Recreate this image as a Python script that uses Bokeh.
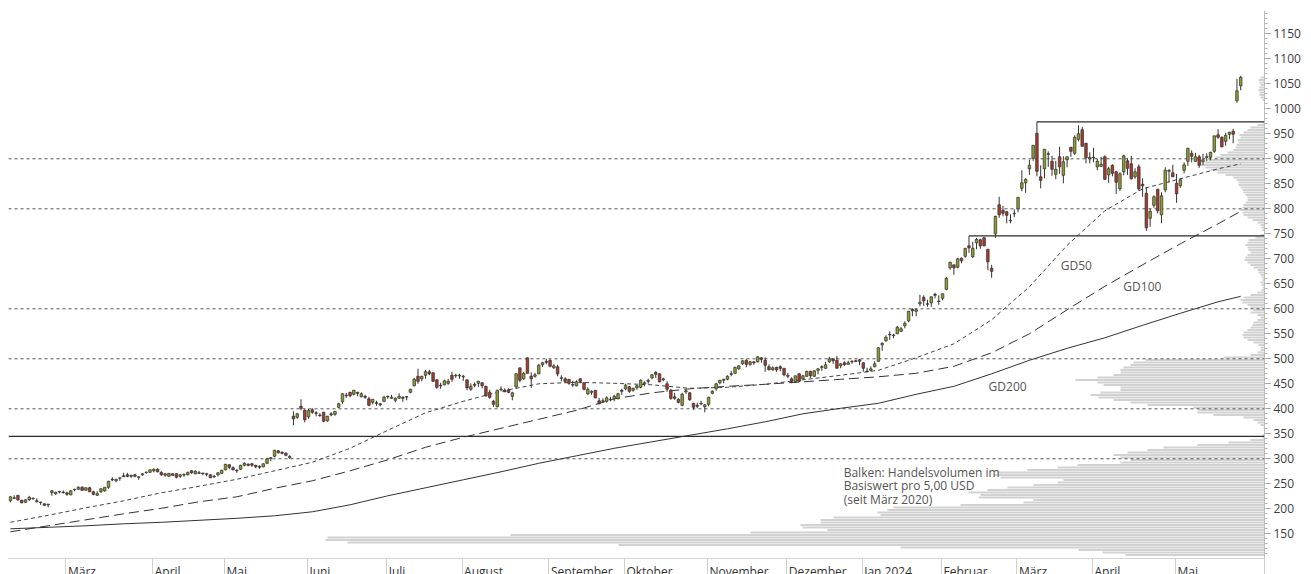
import numpy as np
from bokeh.plotting import figure
from bokeh.models import Range1d, FixedTicker, Label, ColumnDataSource
from bokeh.embed import file_html
from bokeh.resources import INLINE

# ---------------- data ----------------
# trading-day index: day 0 = 1 March 2023, first candle = 7 Feb 2023
FIRST_DAY = -15

opens = [
    216, 221, 227, 217, 213, 218, 221, 216, 213, 210, 209, 232, 230, 234, 233,
    232, 228, 238, 239, 243, 237, 242, 234, 227, 234, 236, 243, 259, 256, 261, 266, 268, 265, 268, 263, 268, 273, 273,
    276, 279, 273, 267, 265, 270, 270, 265, 268, 268, 276, 270, 272, 271, 270, 268, 264, 268, 271,
    278, 288, 282, 277, 279, 287, 289, 290, 287, 285, 284, 291, 301, 305, 316, 313, 311, 302, 385, 383, 405, 397,
    384, 398, 392, 387, 393, 376, 390, 389, 403, 414, 426, 433, 429, 433, 424, 425, 420, 413, 412, 410, 415,
    425, 421, 417, 421, 423, 424, 433, 446, 465, 460, 467, 474, 472, 458, 447, 448, 451, 467, 466, 466,
    464, 458, 439, 449, 451, 452, 445, 433, 415, 404, 439, 437, 438, 425, 444, 482, 460, 502, 465, 465, 470, 488, 495,
    497, 482, 484, 461, 460, 459, 448, 446, 460, 452, 430, 433, 437, 416, 415, 415, 418, 420, 420, 437,
    440, 444, 437, 442, 443, 450, 455, 462, 473, 470, 458, 450, 437, 424, 419, 407, 434, 432, 411, 407, 410, 404,
    409, 431, 440, 452, 457, 459, 470, 471, 480, 490, 497, 489, 494, 494, 502, 497, 484, 478, 483, 484, 481,
    465, 460, 454, 470, 460, 465, 475, 465, 477, 484, 481, 494, 500, 497, 486, 492, 489, 495, 496, 498,
    492, 475, 477, 484, 495, 528, 536, 549, 547, 550, 555, 566, 576, 599, 595, 610, 623, 609, 612, 629, 615,
    621, 639, 682, 688, 683, 701, 705, 726, 704, 732, 738, 742, 719, 681, 750, 808, 797, 794, 776, 790,
    800, 841, 852, 880, 901, 951, 864, 880, 910, 895, 869, 904, 867, 898, 923, 911, 939, 958, 931, 900,
    902, 884, 885, 904, 868, 887, 874, 840, 874, 896, 890, 864, 884, 849, 831, 781, 807, 839, 788, 838, 875, 872,
    851, 846, 877, 895, 911, 895, 904, 894, 904, 903, 915, 948, 943, 935, 949, 955, 1016, 1046,
]
highs = [
    225, 227, 227, 218, 219, 226, 222, 221, 214, 211, 210, 238, 234, 236, 237,
    234, 237, 240, 245, 245, 243, 244, 236, 235, 241, 243, 256, 263, 260, 262, 272, 272, 268, 270, 265, 271, 274, 278,
    281, 281, 275, 272, 271, 271, 271, 269, 271, 274, 277, 277, 276, 272, 272, 269, 268, 273, 278,
    290, 289, 285, 279, 288, 293, 291, 292, 288, 287, 291, 302, 303, 318, 317, 315, 313, 307, 395, 392, 419, 399,
    400, 401, 395, 391, 394, 386, 393, 395, 412, 431, 432, 434, 438, 434, 433, 428, 424, 419, 416, 411, 426,
    426, 428, 423, 431, 425, 425, 440, 462, 480, 466, 478, 478, 473, 459, 452, 458, 460, 474, 470, 470,
    468, 458, 451, 453, 456, 453, 446, 438, 418, 438, 445, 441, 441, 434, 471, 482, 474, 503, 473, 472, 490, 494, 500,
    499, 489, 488, 467, 463, 459, 456, 457, 461, 453, 443, 437, 437, 422, 421, 425, 424, 428, 432, 440,
    450, 446, 442, 448, 459, 455, 460, 469, 475, 471, 462, 455, 440, 432, 421, 432, 438, 433, 412, 412, 416, 410,
    424, 437, 452, 458, 460, 467, 476, 484, 487, 497, 499, 496, 495, 505, 503, 503, 489, 485, 484, 487, 481,
    472, 463, 466, 471, 468, 476, 476, 477, 481, 487, 494, 504, 500, 506, 491, 495, 496, 497, 498, 500,
    493, 482, 485, 495, 523, 533, 547, 555, 550, 566, 564, 575, 596, 601, 600, 628, 627, 618, 625, 632, 627,
    631, 664, 694, 688, 702, 703, 721, 746, 734, 742, 740, 744, 719, 688, 786, 824, 806, 796, 789, 799,
    823, 877, 861, 898, 927, 974, 887, 919, 915, 906, 896, 924, 905, 904, 923, 947, 967, 964, 932, 913,
    922, 900, 904, 907, 884, 889, 876, 873, 908, 901, 906, 881, 889, 861, 843, 800, 827, 840, 833, 883, 879, 888,
    870, 861, 893, 922, 917, 912, 908, 910, 911, 914, 946, 959, 945, 952, 954, 960, 1060, 1066,
]
lows = [
    213, 220, 216, 211, 212, 216, 218, 213, 208, 206, 203, 226, 228, 231, 231,
    226, 227, 235, 238, 236, 236, 234, 227, 226, 232, 234, 240, 255, 253, 256, 264, 263, 262, 263, 258, 266, 270, 272,
    273, 273, 266, 264, 264, 266, 261, 262, 264, 267, 270, 269, 270, 267, 265, 262, 262, 265, 270,
    277, 279, 277, 272, 278, 285, 285, 284, 281, 280, 283, 290, 295, 303, 311, 309, 305, 300, 367, 380, 397, 373,
    380, 390, 385, 384, 373, 374, 385, 386, 402, 410, 422, 423, 427, 425, 423, 420, 405, 409, 406, 405, 413,
    420, 420, 413, 420, 414, 417, 431, 445, 450, 455, 460, 467, 454, 440, 440, 447, 448, 454, 462, 460,
    456, 437, 436, 443, 444, 441, 424, 420, 404, 403, 435, 434, 431, 417, 440, 453, 458, 471, 442, 462, 469, 484, 489,
    483, 480, 465, 455, 452, 448, 444, 445, 451, 437, 428, 428, 421, 409, 412, 412, 415, 415, 419, 428,
    437, 432, 434, 438, 441, 445, 450, 459, 462, 453, 455, 434, 418, 418, 411, 405, 430, 416, 398, 401, 407, 393,
    405, 429, 436, 449, 451, 457, 465, 470, 478, 488, 483, 486, 488, 493, 492, 474, 477, 476, 474, 475, 465,
    461, 451, 453, 454, 459, 464, 462, 464, 469, 476, 480, 492, 490, 481, 481, 486, 489, 490, 493, 487,
    474, 473, 475, 483, 494, 516, 534, 538, 541, 550, 554, 561, 573, 585, 585, 605, 606, 604, 604, 621, 608,
    617, 637, 678, 668, 681, 691, 702, 712, 702, 719, 720, 725, 677, 662, 742, 782, 785, 771, 771, 783,
    793, 835, 832, 868, 896, 865, 841, 861, 884, 866, 859, 870, 851, 883, 904, 908, 935, 925, 891, 891,
    893, 877, 884, 858, 852, 865, 830, 836, 867, 868, 859, 860, 836, 824, 756, 764, 802, 791, 771, 833, 852, 864,
    812, 842, 871, 886, 893, 894, 882, 888, 895, 897, 912, 940, 923, 926, 939, 931, 1012, 1037,
]
closes = [
    224, 222, 218, 212, 218, 223, 221, 214, 213, 207, 208, 236, 233, 234, 232,
    229, 236, 239, 243, 237, 242, 234, 229, 230, 240, 243, 255, 258, 259, 262, 264, 265, 267, 265, 264, 270, 273, 278,
    279, 274, 268, 270, 271, 267, 263, 268, 268, 273, 272, 275, 271, 271, 269, 262, 265, 272, 277,
    289, 283, 278, 276, 287, 291, 287, 287, 284, 283, 290, 300, 302, 317, 312, 311, 307, 305, 380, 390, 401, 378,
    397, 393, 391, 387, 375, 385, 388, 395, 410, 430, 427, 426, 437, 431, 430, 423, 407, 419, 411, 408, 423,
    424, 423, 421, 425, 421, 424, 439, 459, 455, 465, 474, 470, 455, 443, 446, 456, 455, 459, 467, 467,
    465, 442, 445, 447, 455, 446, 426, 423, 409, 437, 439, 434, 433, 432, 470, 457, 471, 471, 460, 468, 487, 492, 493,
    485, 486, 470, 462, 455, 451, 448, 454, 455, 439, 439, 435, 422, 410, 416, 422, 419, 425, 430, 435,
    447, 435, 441, 446, 457, 452, 457, 468, 469, 454, 460, 439, 421, 421, 413, 429, 436, 418, 403, 405, 411, 408,
    423, 435, 450, 457, 459, 465, 469, 483, 486, 496, 489, 494, 492, 504, 499, 487, 478, 482, 478, 481, 468,
    467, 455, 466, 455, 466, 475, 466, 476, 480, 483, 488, 500, 496, 481, 490, 488, 492, 494, 495, 495,
    481, 475, 480, 490, 522, 531, 543, 548, 547, 563, 560, 571, 595, 596, 598, 613, 616, 610, 624, 627, 615,
    630, 661, 693, 682, 700, 696, 721, 722, 721, 739, 726, 726, 694, 675, 785, 788, 791, 787, 777, 791,
    823, 852, 859, 887, 927, 875, 857, 919, 909, 879, 879, 884, 894, 904, 915, 943, 950, 925, 902, 903,
    903, 895, 889, 859, 880, 871, 853, 870, 906, 881, 860, 874, 840, 846, 762, 795, 824, 796, 826, 877, 877, 864,
    830, 858, 888, 921, 905, 904, 887, 898, 903, 913, 946, 943, 924, 947, 953, 949, 1036, 1063,
]

# moving averages (trading-day index, value)
ma_days = [-15, -5, 5, 15, 25, 35, 45, 55, 65, 75, 85, 95, 105, 115, 125, 135, 145,
           155, 165, 175, 185, 195, 205, 215, 225, 235, 245, 255, 265, 275, 285, 295, 305, 311]
gd50 = [173, 187, 202, 216, 232, 245, 259, 276, 293, 321, 357, 392, 415, 435, 450, 453, 451,
        448, 441, 443, 449, 458, 467, 477, 502, 530, 578, 644, 727, 796, 840, 860, 880, 890]
gd100 = [154, 166, 178, 190, 201, 214, 224, 241, 256, 276, 298, 323, 343, 361, 379, 397, 420,
         432, 440, 445, 449, 454, 459, 464, 471, 485, 512, 550, 598, 645, 688, 730, 770, 795]
gd200 = [160, 163, 166, 170, 173, 177, 181, 186, 194, 208, 226, 242, 258, 274, 291, 306, 321,
         334, 347, 360, 374, 390, 401, 411, 429, 445, 470, 497, 521, 542, 567, 591, 614, 625]

# volume profile: lower bound of each 5 USD bucket and relative volume
vol_bins = list(range(105, 1065, 5))
vol_len = [
    139, 162, 186, 364, 646, 917, 939, 937, 754, 514,
    437, 462, 464, 444, 444, 431, 384, 387, 377, 371,
    304, 241, 231, 286, 284, 296, 277, 257, 231, 207,
    201, 264, 271, 267, 237, 207, 187, 144, 134, 144,
    151, 137, 117, 101, 67, 36, 14, 2, 2, 0,
    0, 1, 4, 7, 11, 21, 51, 67, 66, 71,
    117, 134, 151, 166, 174, 164, 144, 144, 161, 167,
    189, 167, 151, 144, 144, 141, 134, 131, 119, 41,
    14, 7, 4, 4, 6, 11, 17, 21, 22, 21,
    17, 14, 12, 11, 7, 4, 7, 14, 11, 14,
    17, 22, 24, 21, 14, 7, 3, 2, 3, 4,
    2, 3, 4, 6, 7, 11, 14, 17, 20, 19,
    17, 14, 16, 17, 19, 17, 16, 9, 4, 0,
    2, 3, 4, 7, 12, 17, 21, 22, 24, 22,
    21, 19, 17, 17, 19, 21, 22, 24, 26, 26,
    28, 31, 39, 47, 54, 59, 64, 59, 56, 49,
    44, 37, 31, 29, 28, 26, 27, 24, 25, 21,
    17, 14, 7, 2, 0, 0, 0, 0, 0, 0,
    0, 0, 2, 4, 5, 5, 6, 5, 4, 5,
    6, 4,
]

month_starts = [0, 23, 42, 64, 85, 105, 128, 148, 170, 191, 211, 232, 252, 272, 294]
month_labels = ["März", "April", "Mai", "Juni", "Juli", "August", "September", "Oktober",
                "November", "Dezember", "Jan 2024", "Februar", "März", "April", "Mai"]

dotted_levels = [300, 400, 500, 600, 800, 900]
res_levels = [345, 746, 974]
res_from_day = [None, 239, 257]

y_ticks = list(range(150, 1151, 50))
note_lines = ["Balken: Handelsvolumen im", "Basiswert pro 5,00 USD", "(seit März 2020)"]

# ---------------- figure ----------------
FONT = "Open Sans"
PX_PER_DAY = 3.774
X0, X1 = -15.5, 317.3
FW, FH = 1256, 548

p = figure(frame_width=FW, frame_height=FH,
           x_range=Range1d(X0, X1), y_range=Range1d(100.6, 1196.6),
           y_axis_location="right", output_backend="svg", toolbar_location=None,
           min_border_left=8, min_border_top=10, min_border_right=0, min_border_bottom=0)
p.outline_line_color = None
p.grid.visible = False
p.background_fill_color = "white"
p.extra_x_ranges = {"vol": Range1d(start=FW, end=0)}

# volume profile
p.hbar(y=[b + 2.5 for b in vol_bins], height=4.0, left=0, right=vol_len,
       x_range_name="vol", fill_color="#d2d2d2", line_color=None)

# horizontal levels
p.segment(x0=[X0] * len(dotted_levels), y0=dotted_levels, x1=[X1] * len(dotted_levels),
          y1=dotted_levels, line_color="#555555", line_width=1, line_dash="3 3")
rx0 = [X0 if d is None else d for d in res_from_day]
p.segment(x0=rx0, y0=res_levels, x1=[X1] * len(res_levels), y1=res_levels,
          line_color="#2a2a2a", line_width=1.2)

# moving averages
p.line(ma_days, gd200, line_color="#333333", line_width=1)
p.line(ma_days, gd100, line_color="#333333", line_width=1, line_dash="10 5")
p.line(ma_days, gd50, line_color="#444444", line_width=1, line_dash="4 3")

# candles
o = np.array(opens, float); h = np.array(highs, float)
l = np.array(lows, float); c = np.array(closes, float)
days = np.arange(FIRST_DAY, FIRST_DAY + len(c))
top = np.maximum(o, c); bot = np.minimum(o, c)
mid = (top + bot) / 2
thin = (top - bot) < 1.2
top = np.where(thin, mid + 0.6, top)
bot = np.where(thin, mid - 0.6, bot)
colors = np.where(c >= o, "#8e9e2c", "#a83a2e")
src = ColumnDataSource(dict(day=days, o=o, h=h, l=l, c=c, top=top, bot=bot, color=colors))
p.segment(x0="day", y0="l", x1="day", y1="h", source=src, line_color="#333333", line_width=1)
p.vbar(x="day", width=0.68, top="top", bottom="bot", source=src,
       fill_color="color", line_color="#2e2e2e", line_width=0.7)

# annotations
for txt, x, y in [("GD50", 263.3, 687), ("GD100", 279.9, 645), ("GD200", 244.2, 445)]:
    p.add_layout(Label(x=x, y=y, text=txt, text_font=FONT, text_font_size="12px",
                       text_color="#555555", text_baseline="middle", text_align="left"))
for i, txt in enumerate(note_lines):
    p.add_layout(Label(x=205.8, y=273 - i * 27, text=txt, text_font=FONT, text_font_size="12px",
                       text_color="#555555", text_baseline="middle", text_align="left"))

# right price axis
ya = p.yaxis[0]
ya.ticker = FixedTicker(ticks=y_ticks, minor_ticks=list(range(110, 1200, 10)))
ya.axis_line_color = "#bdbdbd"
ya.major_tick_line_color = "#999999"
ya.minor_tick_line_color = "#b5b5b5"
ya.major_tick_out = 6
ya.major_tick_in = 0
ya.minor_tick_out = 3
ya.minor_tick_in = 0
ya.major_label_standoff = 3
ya.major_label_text_font = FONT
ya.major_label_text_font_size = "12px"
ya.major_label_text_color = "#3d3d3d"

# bottom month axis: separators as minor ticks, labels centred on invisible major ticks
CHAR_EM = {"M": .907, "ä": .562, "r": .408, "z": .477, "A": .633, "p": .613, "i": .258,
           "l": .258, "a": .562, "J": .268, "u": .613, "n": .613, "g": .538, "s": .479,
           "t": .356, "e": .562, "m": .930, "b": .613, "O": .779, "k": .525, "o": .601,
           "v": .500, "D": .730, "F": .520, "N": .754, "S": .550, " ": .260, "0": .572,
           "2": .572, "4": .572}
def text_px(s):
    return sum(CHAR_EM.get(ch, .56) for ch in s) * 12

label_pos = [s - 0.3 + (2.0 + text_px(t) / 2) / PX_PER_DAY for s, t in zip(month_starts, month_labels)]
xa = p.xaxis[0]
seps = [s - 0.3 for s in month_starts] + [X1 - 0.05]
xa.ticker = FixedTicker(ticks=label_pos, minor_ticks=seps)
xa.major_label_overrides = {pos: t for pos, t in zip(label_pos, month_labels)}
xa.axis_line_color = "#d5d5d5"
xa.minor_tick_line_color = "#cfcfcf"
xa.minor_tick_out = 16
xa.minor_tick_in = 0
xa.major_tick_out = 0
xa.major_tick_in = 0
xa.major_tick_line_color = None
xa.major_label_standoff = -12
xa.major_label_text_font = FONT
xa.major_label_text_font_size = "12px"
xa.major_label_text_color = "#333333"

open("out.html", "w").write(file_html(p, INLINE))
